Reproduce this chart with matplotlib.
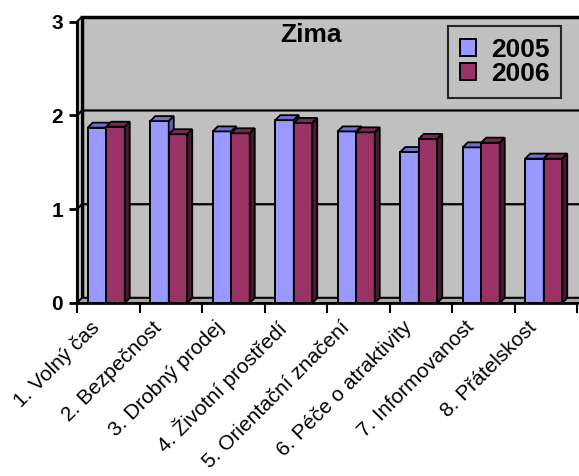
import numpy as np
import matplotlib
matplotlib.use('Agg')
import matplotlib.pyplot as plt
from matplotlib.patches import Polygon, Rectangle
from matplotlib.transforms import ScaledTranslation

plt.rcParams['font.family'] = ['Liberation Sans', 'DejaVu Sans']

categories = ['1. Volný čas', '2. Bezpečnost', '3. Drobný prodej',
              '4. Životní prostředí', '5. Orientační značení',
              '6. Péče o atraktivity', '7. Informovanost', '8. Přátelskost']
years = ['2005', '2006']
v2005 = [1.87, 1.94, 1.83, 1.95, 1.83, 1.61, 1.66, 1.54]
v2006 = [1.88, 1.80, 1.81, 1.92, 1.82, 1.75, 1.71, 1.54]

front_cols = ['#9999FF', '#993366']
top_cols = ['#6F6FD0', '#7A2952']
side_cols = ['#6464B0', '#4A1830']
wall_col = '#C0C0C0'

fig = plt.figure(figsize=(5.79, 4.76), dpi=100)
ax = fig.add_axes([77/579, 173/476, 500/579, 281.3/476])
ax.set_facecolor('none')
n = len(categories)
ax.set_xlim(0, n)
ax.set_ylim(0, 3)

# depth of the fake 3d, 5 px expressed in data units
ddx = 5 / (ax.bbox.width / n)
ddy = 5 / (ax.bbox.height / 3)

# back wall, left wall, floor
ax.add_patch(Rectangle((ddx, ddy), n, 3, facecolor=wall_col, edgecolor='black',
                       lw=2.5, zorder=0, clip_on=False))
ax.add_patch(Polygon([(0, 0), (0, 3), (ddx, 3 + ddy), (ddx, ddy)], closed=True,
                     facecolor=wall_col, edgecolor='black', lw=1.5, zorder=0.5, clip_on=False))
ax.add_patch(Polygon([(0, 0), (n + ddx, 0), (n + ddx, ddy), (ddx, ddy)], closed=True,
                     facecolor='#A8A8A8', edgecolor='black', lw=1.2, zorder=0.5, clip_on=False))
for g in [1, 2]:
    ax.plot([0, ddx, n + ddx], [g, g + ddy, g + ddy], color='black', lw=1.6,
            zorder=0.6, clip_on=False)

w = 0.296
offs = [-0.18, 0.116]
x = np.arange(n) + 0.5
handles = []
for i in range(n):
    for k, vals in enumerate([v2005, v2006]):
        x0 = x[i] + offs[k] - w / 2
        x1 = x0 + w
        h = vals[i]
        b = ax.bar(x0, h, width=w, align='edge', color=front_cols[k], edgecolor='black',
                   lw=1.4, zorder=2 + i + k * 0.1)
        if i == 0:
            handles.append(b[0])
        ax.add_patch(Polygon([(x0, h), (x1, h), (x1 + ddx, h + ddy), (x0 + ddx, h + ddy)],
                             closed=True, facecolor=top_cols[k], edgecolor='black', lw=1.3,
                             zorder=2 + i + k * 0.1, clip_on=False))
        ax.add_patch(Polygon([(x1, 0), (x1, h), (x1 + ddx, h + ddy), (x1 + ddx, ddy)],
                             closed=True, facecolor=side_cols[k], edgecolor='black', lw=1.3,
                             zorder=2 + i + k * 0.1, clip_on=False))

for s in ['top', 'right']:
    ax.spines[s].set_visible(False)
for s in ['left', 'bottom']:
    ax.spines[s].set_linewidth(2)
    ax.spines[s].set_zorder(20)

ax.set_yticks([0, 1, 2, 3])
ax.set_yticklabels(['0', '1', '2', '3'], fontsize=15, fontweight='bold')
ax.tick_params(axis='y', length=6, width=2, pad=4)
ax.set_xticks(np.arange(n + 1))
ax.set_xticklabels([])
ax.tick_params(axis='x', which='major', length=7, width=1.5)
ax.set_xticks(x, minor=True)
ax.set_xticklabels(categories, minor=True, rotation=45, ha='right', fontsize=15)
ax.tick_params(axis='x', which='minor', length=0, pad=7)
shift = ScaledTranslation(-5/100, -5/100, fig.dpi_scale_trans)
for lab in ax.get_xticklabels(minor=True):
    lab.set_transform(lab.get_transform() + shift)

fig.text(311/579, 1 - 35/476, 'Zima', ha='center', va='center', fontsize=19,
         fontweight='bold')

leg = ax.legend(handles, years, loc='upper left',
                bbox_to_anchor=(448/579, 1 - 26/476), bbox_transform=fig.transFigure,
                prop={'size': 19, 'weight': 'bold'}, frameon=True, fancybox=False,
                handlelength=0.62, handleheight=0.62, handletextpad=0.55,
                borderpad=0.45, labelspacing=0.0, borderaxespad=0)
leg.get_frame().set_facecolor(wall_col)
leg.get_frame().set_edgecolor('black')
leg.get_frame().set_linewidth(1.5)
leg.set_zorder(30)

fig.savefig('out.png', dpi=100)
